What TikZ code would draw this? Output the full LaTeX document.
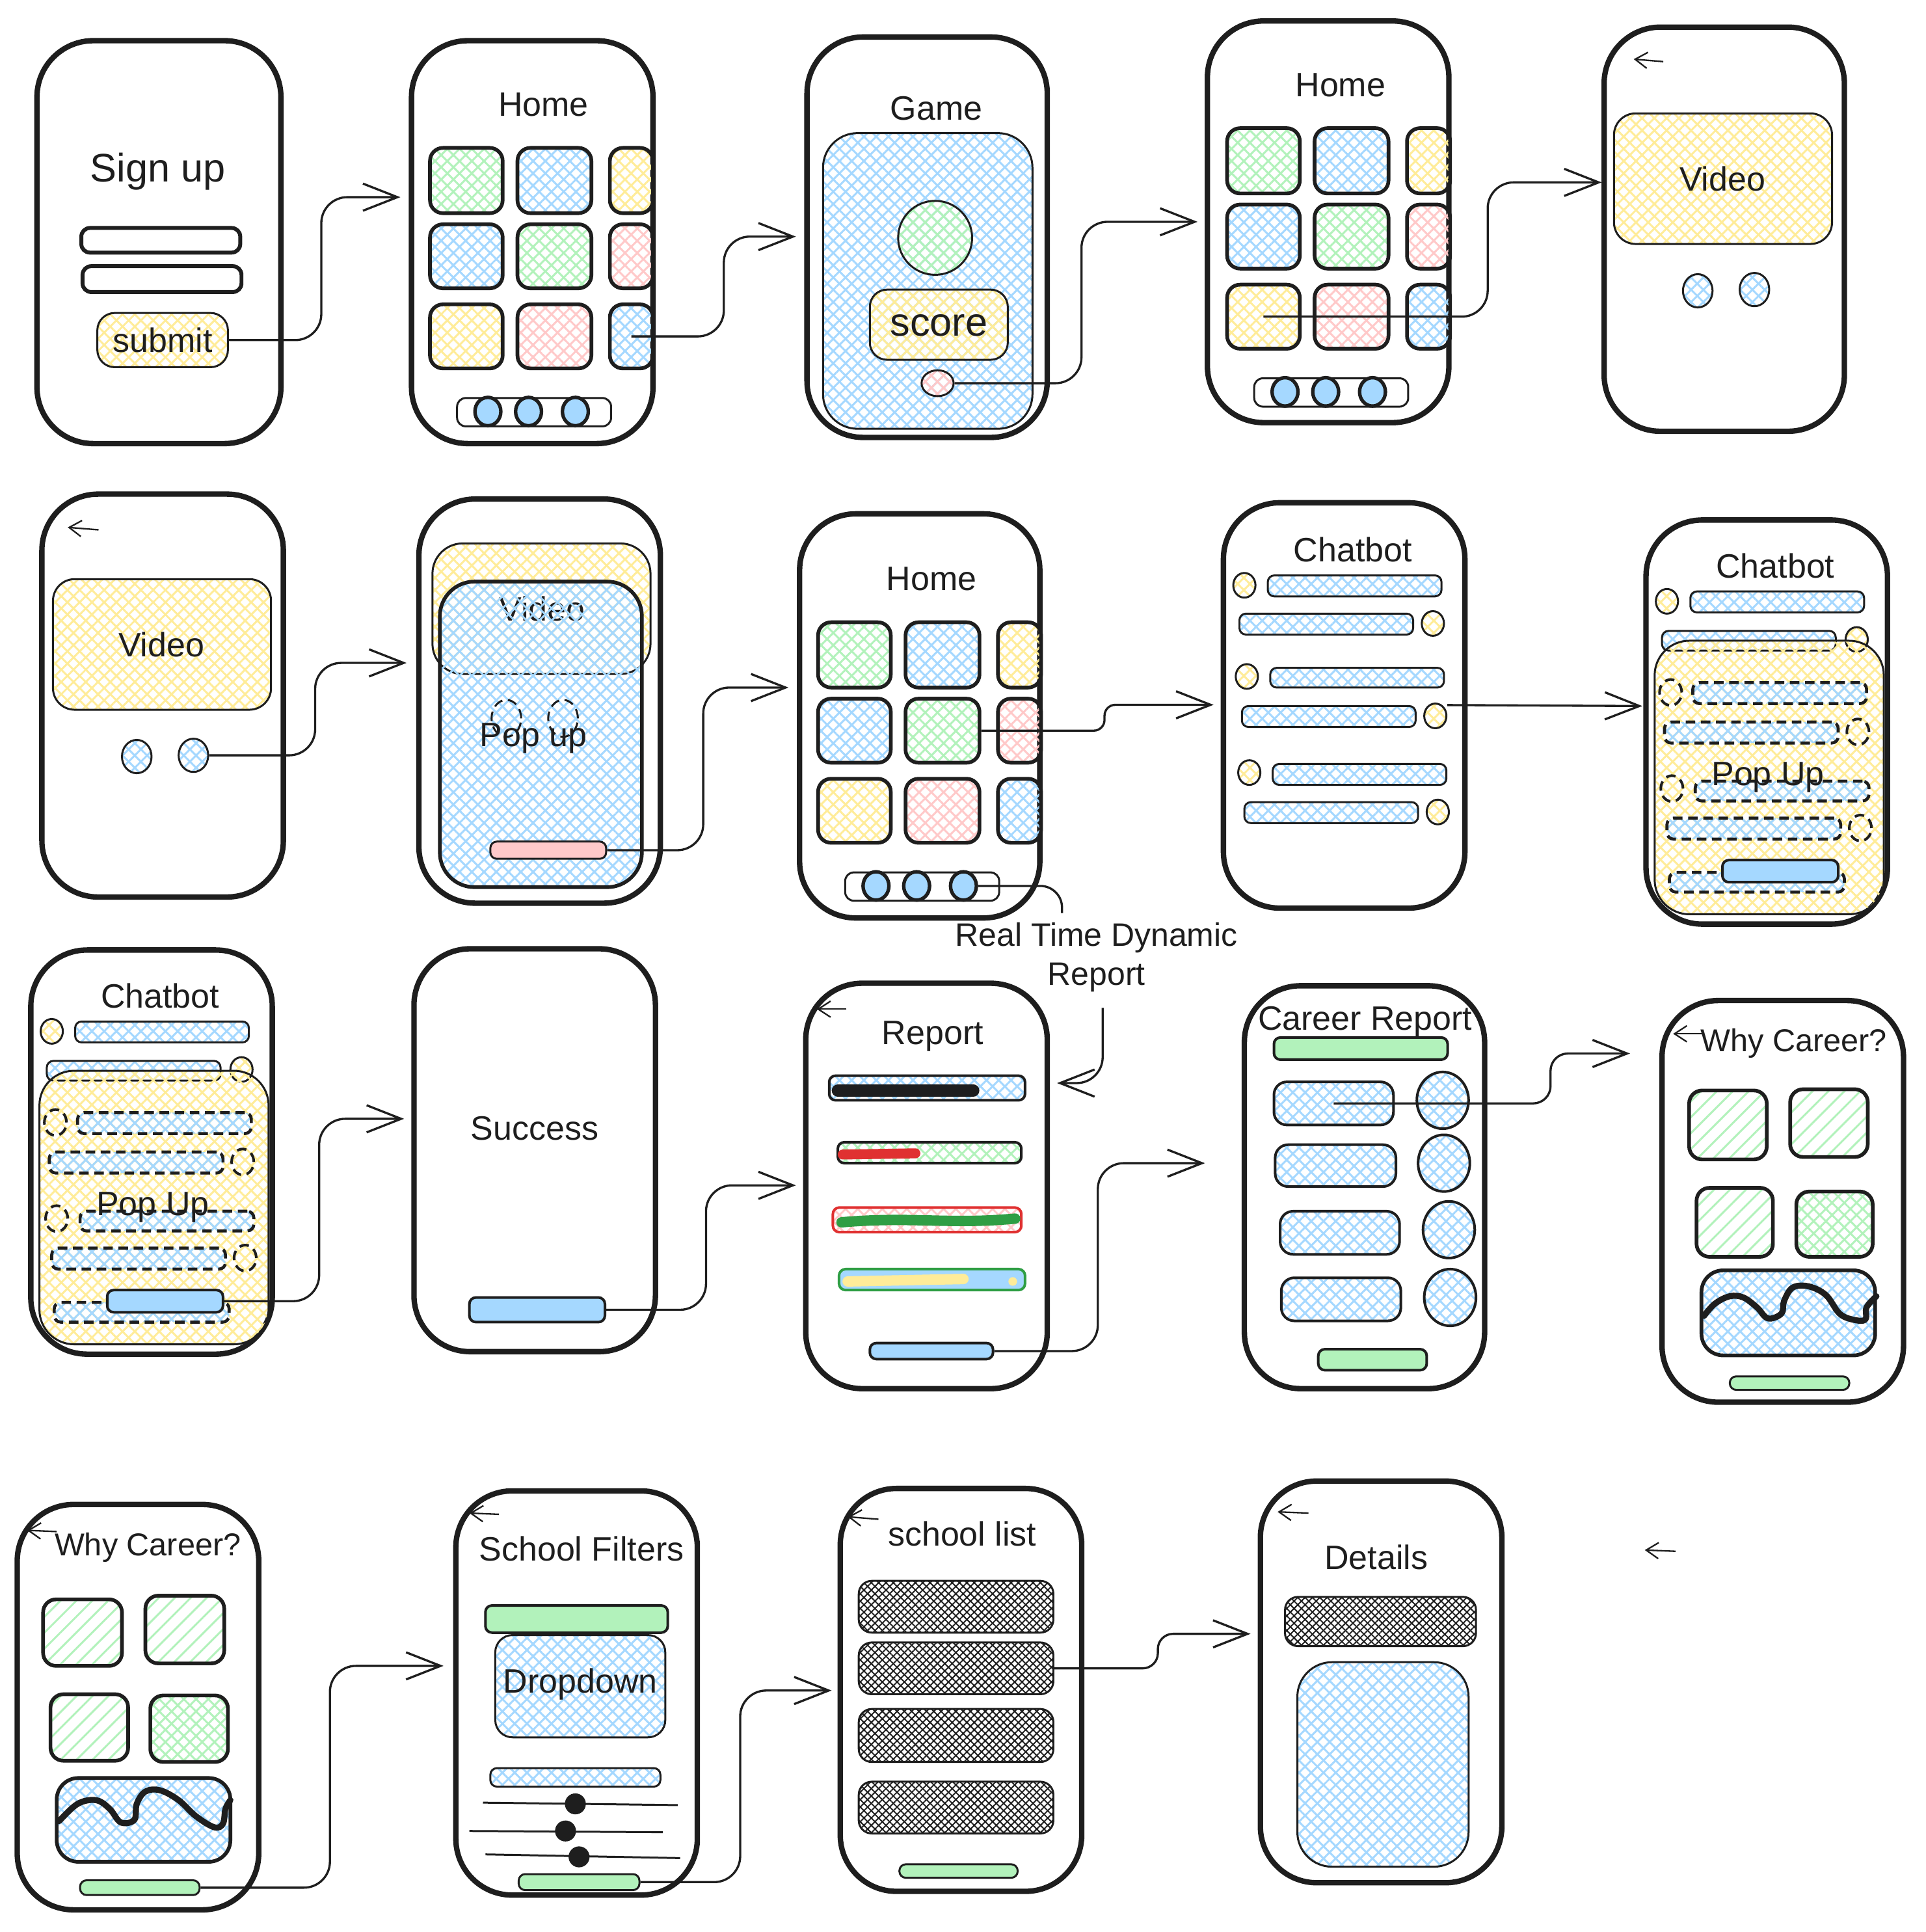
\documentclass[tikz,border=0pt]{standalone}
\usepackage{fontspec}
\setmainfont{Liberation Sans}
\usetikzlibrary{fit,arrows.meta,patterns.meta,shapes.geometric}

\definecolor{ink}{HTML}{1E1E1E}
\definecolor{cgreen}{HTML}{B2F2BB}
\definecolor{cblue}{HTML}{A5D8FF}
\definecolor{cyellow}{HTML}{FFEC99}
\definecolor{cred}{HTML}{FFC9C9}
\definecolor{sred}{HTML}{E03131}
\definecolor{sgreen}{HTML}{2F9E44}

\tikzset{
    phone/.style={draw=ink, line width=1.25pt, rounded corners=13pt, inner sep=0pt},
    hatchfill/.style={pattern={Hatch[angle=45,distance=2pt,line width=.45pt]}, pattern color=#1},
    linefill/.style={pattern={Lines[angle=45,distance=2.6pt,line width=.45pt]}, pattern color=#1},
    darkfill/.style={pattern={Hatch[angle=45,distance=1.2pt,line width=.3pt]}, pattern color=ink},
    apptile/.style={draw=ink, line width=.85pt, rounded corners=3pt, inner sep=0pt, hatchfill=#1},
    panel/.style={draw=ink, line width=.45pt, rounded corners=4pt, inner sep=0pt, hatchfill=#1},
    chatbar/.style={draw=ink, line width=.45pt, rounded corners=1.5pt, inner sep=0pt, hatchfill=#1},
    btn/.style={draw=ink, line width=.45pt, rounded corners=1.5pt, inner sep=0pt, fill=#1},
    field/.style={draw=ink, line width=.9pt, rounded corners=2pt, inner sep=0pt},
    navbar/.style={draw=ink, line width=.45pt, rounded corners=2pt, inner sep=0pt},
    bubble/.style={ellipse, draw=ink, line width=.45pt, inner sep=0pt, minimum size=#1},
    knob/.style={circle, fill=ink, inner sep=0pt, minimum size=1.7mm},
    dashline/.style={dash pattern=on 2.2pt off 1.3pt},
    wave/.style={draw=ink, line width=1.4pt, line cap=round, line join=round},
    conn/.style={draw=ink, line width=.5pt, rounded corners=6pt, -{Straight Barb[length=2.8mm,width=2.2mm]}},
    link/.style={draw=ink, line width=.5pt, rounded corners=5pt},
    backarrow/.style={draw=ink, line width=.35pt, -{Straight Barb[length=1mm,width=1.3mm]}},
    big/.style={font=\fontsize{9.2}{11}\selectfont},
    small/.style={font=\fontsize{7.3}{8.6}\selectfont}
}

\newcommand{\homescreen}[3]{%
    \begin{scope}[shift={(#2,#3)}]
        \node (#1h) at (92,-35) {Home};
        \foreach \i/\xa/\ya/\xb/\yb/\col in {1/0/0/59/53/cgreen, 2/71/0/131/53/cblue, 3/146/0/181/53/cyellow, 4/0/62/59/114/cblue, 5/71/62/131/114/cgreen, 6/146/62/181/114/cred, 7/0/127/59/179/cyellow, 8/71/127/131/179/cred, 9/146/127/181/179/cblue}
            \node[apptile=\col, fit={(\xa,\ya) (\xb,\yb)}] (#1t\i) {};
        \node[navbar, fit={(22,203) (147,226)}] (#1nav) {};
        \foreach \i/\xx in {1/47, 2/80, 3/118}
            \node[bubble=2.1mm, minimum height=2.3mm, fill=cblue, line width=.8pt] (#1n\i) at (\xx,214) {};
    \end{scope}}

\newcommand{\chatpopup}[3]{%
    \begin{scope}[shift={(#2,#3)}]
        \node[phone, fit={(0,0) (196,328)}] (#1) {};
        \node (#1h) at (105,37) {Chatbot};
        \node[bubble=1.8mm, minimum height=2mm, hatchfill=cyellow] (#1c1) at (17,66) {};
        \node[chatbar=cblue, fit={(36,58) (177,75)}] (#1b1) {};
        \node[chatbar=cblue, fit={(13,90) (154,106)}] (#1b2) {};
        \node[bubble=1.8mm, minimum height=2mm, hatchfill=cyellow] (#1c2) at (171,97) {};
        \node[panel=cyellow, rounded corners=8pt, fit={(7,98) (193,320)}] (#1pop) {};
        \foreach \i/\cx/\cy/\xa/\ya/\xb/\yb in {3/20/140/38/132/179/149, 4/172/172/15/164/156/181, 5/21/218/40/212/181/228, 6/174/250/17/242/158/259} {
            \node[chatbar=cblue, dashline, line width=.7pt, fit={(\xa,\ya) (\xb,\yb)}] (#1b\i) {};
            \node[bubble=1.8mm, minimum height=2.1mm, dashline, line width=.6pt] (#1c\i) at (\cx,\cy) {};
        }
        \node[chatbar=cblue, dashline, line width=.7pt, fit={(19,286) (161,302)}] (#1b7) {};
        \node (#1t) at (99,209) {Pop Up};
        \node[btn=cblue, line width=.6pt, fit={(62,276) (156,294)}] (#1btn) {};
    \end{scope}}

\begin{document}
\begin{tikzpicture}[x=0.01cm, y=-0.01cm, font=\fontsize{7.8}{9.1}\selectfont, text=ink]

        \fill[white] (0,0) rectangle (1563,1568);
        \useasboundingbox (0,0) rectangle (1563,1568);

        \foreach \n/\xa/\ya/\xb/\yb in {p1/30/33/228/360, p2/334/33/530/360, p3/655/30/850/355, p4/980/17/1176/343, p5/1302/22/1497/350, p6/34/401/230/728, p7/340/405/536/733, p8/649/417/844/745, p9/993/408/1189/737, p12/336/770/532/1097, p13/654/798/850/1127, p14/1010/800/1205/1127, p15/1349/812/1545/1138, p16/14/1221/210/1550, p17/370/1210/566/1538, p18/682/1208/878/1535, p19/1023/1202/1219/1528} {
            \node[phone, fit={(\xa,\ya) (\xb,\yb)}] (\n) {};
        }

        \foreach \xa/\ya/\xb/\yb in {1350/50/1326/48, 80/430/55/428, 687/819/663/819, 1382/839/1358/839, 46/1243/22/1242, 405/1229/381/1228, 713/1233/688/1231, 1062/1228/1037/1227, 1360/1259/1335/1258} {
            \draw[backarrow] (\xa,\ya) -- (\xb,\yb);
        }

        \node[big] (p1t) at (128,139) {Sign up};
        \node[field, fit={(66,185) (195,205)}] (p1f1) {};
        \node[field, fit={(67,216) (196,237)}] (p1f2) {};
        \node[panel=cyellow, fit={(79,254) (185,298)}] (p1sub) {};
        \node (p1subt) at (p1sub) {submit};

        \homescreen{p2}{349}{120}

        \node (p3t) at (760,88) {Game};
        \node[panel=cblue, rounded corners=8pt, fit={(668,108) (838,348)}] (p3scr) {};
        \node[bubble=6mm, hatchfill=cgreen] (p3ball) at (759,193) {};
        \node[panel=cyellow, fit={(706,235) (818,292)}] (p3score) {};
        \node[big] (p3scoret) at (762,264) {score};
        \node[bubble=2.6mm, minimum height=2.1mm, hatchfill=cred] (p3dot) at (761,311) {};

        \homescreen{p4}{996}{104}

        \node[panel=cyellow, rounded corners=5pt, fit={(1310,92) (1487,198)}] (p5v) {};
        \node (p5vt) at (1398,145) {Video};
        \node[bubble=2.4mm, minimum height=2.7mm, hatchfill=cblue] (p5d1) at (1378,236) {};
        \node[bubble=2.4mm, minimum height=2.7mm, hatchfill=cblue] (p5d2) at (1424,235) {};

        \node[panel=cyellow, rounded corners=5pt, fit={(43,470) (220,576)}] (p6v) {};
        \node (p6vt) at (131,523) {Video};
        \node[bubble=2.4mm, minimum height=2.7mm, hatchfill=cblue] (p6d1) at (111,614) {};
        \node[bubble=2.4mm, minimum height=2.7mm, hatchfill=cblue] (p6d2) at (157,613) {};

        \node[panel=cyellow, rounded corners=7pt, fit={(351,441) (528,547)}] (p7v) {};
        \node (p7vt) at (440,494) {Video};
        \node[apptile=cblue, rounded corners=8pt, fit={(357,472) (521,720)}] (p7pop) {};
        \node[bubble=2.4mm, minimum height=3mm, dashline, hatchfill=cblue] (p7d1) at (411,583) {};
        \node[bubble=2.4mm, minimum height=3mm, dashline, hatchfill=cblue] (p7d2) at (457,583) {};
        \node (p7t) at (433,599) {Pop up};
        \node[btn=cred, fit={(398,683) (492,697)}] (p7b) {};

        \homescreen{p8}{664}{505}

        \node (p9h) at (1098,446) {Chatbot};
        \foreach \i/\cx/\cy/\xa/\ya/\xb/\yb in {1/1010/475/1029/467/1170/484, 2/1163/506/1006/498/1147/515, 3/1012/549/1031/542/1172/558, 4/1165/581/1008/573/1149/590, 5/1014/627/1033/620/1174/637, 6/1167/659/1010/651/1151/668} {
            \node[chatbar=cblue, fit={(\xa,\ya) (\xb,\yb)}] (p9b\i) {};
            \node[bubble=1.8mm, minimum height=2mm, hatchfill=cyellow] (p9c\i) at (\cx,\cy) {};
        }

        \chatpopup{p10}{1336}{422}
        \chatpopup{p11}{25}{771}

        \node (p12t) at (434,916) {Success};
        \node[btn=cblue, line width=.6pt, fit={(381,1053) (491,1073)}] (p12btn) {};

        \node (p13t) at (757,841) {Report};
        \node[chatbar=cblue, line width=.6pt, fit={(673,873) (832,893)}] (p13r1) {};
        \draw[ink, line width=2.8pt, line cap=round] (680,885) -- (790,885);
        \node[chatbar=cgreen, line width=.6pt, fit={(680,927) (829,944)}] (p13r2) {};
        \draw[sred, line width=2.3pt, line cap=round] (684,937) -- (743,936);
        \node[chatbar=cred, draw=sred, line width=.6pt, fit={(676,980) (829,1000)}] (p13r3) {};
        \draw[sgreen, line width=2.4pt, line cap=round] (683,992) .. controls (740,987) and (770,994) .. (824,989);
        \node[btn=cblue, draw=sgreen, line width=.6pt, fit={(681,1030) (832,1047)}] (p13r4) {};
        \draw[cyellow, line width=2.4pt, line cap=round] (688,1040) -- (782,1038);
        \fill[cyellow] (822,1040) circle (1pt);
        \node[btn=cblue, line width=.6pt, fit={(706,1090) (806,1103)}] (p13btn) {};

        \node (p14t) at (1108,829) {Career Report};
        \node[btn=cgreen, line width=.6pt, fit={(1034,842) (1175,860)}] (p14top) {};
        \foreach \i/\xa/\ya/\xb/\yb/\cx/\cy in {1/1034/878/1131/913/1171/893, 2/1035/929/1133/963/1172/944, 3/1039/983/1136/1018/1176/998, 4/1040/1037/1137/1072/1177/1053} {
            \node[apptile=cblue, line width=.6pt, fit={(\xa,\ya) (\xb,\yb)}] (p14r\i) {};
            \node[bubble=4.2mm, minimum height=4.6mm, line width=.6pt, hatchfill=cblue] (p14c\i) at (\cx,\cy) {};
        }
        \node[btn=cgreen, line width=.6pt, fit={(1070,1095) (1158,1112)}] (p14btn) {};

        \node[small] (p15t) at (1456,847) {Why Career?};
        \node[apptile, linefill=cgreen, fit={(1371,885) (1434,941)}] (p15g1) {};
        \node[apptile, linefill=cgreen, fit={(1453,884) (1516,939)}] (p15g2) {};
        \node[apptile, linefill=cgreen, fit={(1377,964) (1439,1020)}] (p15g3) {};
        \node[apptile=cgreen, fit={(1458,967) (1520,1020)}] (p15g4) {};
        \node[apptile=cblue, rounded corners=5pt, fit={(1381,1031) (1522,1100)}] (p15ch) {};
        \draw[wave] plot[smooth, tension=.6] coordinates {(1383,1068) (1392,1058) (1404,1052) (1415,1053) (1426,1061) (1435,1070) (1446,1066) (1448,1056) (1455,1045) (1468,1044) (1482,1051) (1493,1066) (1504,1071) (1514,1071) (1515,1061) (1523,1052)};
        \node[btn=cgreen, fit={(1404,1117) (1501,1128)}] (p15btn) {};

        \node[small] (p16t) at (120,1256) {Why Career?};
        \node[apptile, linefill=cgreen, fit={(35,1298) (99,1352)}] (p16g1) {};
        \node[apptile, linefill=cgreen, fit={(118,1295) (182,1350)}] (p16g2) {};
        \node[apptile, linefill=cgreen, fit={(41,1375) (104,1429)}] (p16g3) {};
        \node[apptile=cgreen, fit={(122,1376) (185,1430)}] (p16g4) {};
        \node[apptile=cblue, rounded corners=5pt, fit={(46,1443) (187,1511)}] (p16ch) {};
        \draw[wave] plot[smooth, tension=.6] coordinates {(48,1478) (63,1464) (78,1461) (89,1468) (98,1479) (109,1477) (111,1464) (118,1454) (130,1453) (145,1461) (159,1474) (174,1483) (181,1480) (183,1468) (187,1461)};
        \node[btn=cgreen, fit={(65,1526) (162,1538)}] (p16btn) {};

        \node (p17t) at (472,1257) {School Filters};
        \node[btn=cgreen, line width=.6pt, fit={(394,1303) (542,1325)}] (p17top) {};
        \node[panel=cblue, fit={(402,1327) (540,1410)}] (p17dd) {};
        \node (p17ddt) at (471,1367) {Dropdown};
        \node[chatbar=cblue, fit={(398,1435) (536,1450)}] (p17bar) {};
        \foreach \i/\xa/\ya/\xb/\yb/\kx/\ky in {1/392/1463/550/1465/467/1464, 2/381/1486/538/1487/459/1486, 3/394/1505/552/1508/470/1507} {
            \draw[ink, line width=.45pt] (\xa,\ya) -- (\xb,\yb);
            \node[knob] (p17k\i) at (\kx,\ky) {};
        }
        \node[btn=cgreen, fit={(421,1521) (519,1534)}] (p17btn) {};

        \node (p18t) at (781,1245) {school list};
        \foreach \i/\ya/\yb in {1/1283/1325, 2/1333/1375, 3/1387/1430, 4/1446/1488} {
            \node[draw=ink, line width=.45pt, rounded corners=3pt, inner sep=0pt, darkfill, fit={(697,\ya) (855,\yb)}] (p18s\i) {};
        }
        \node[btn=cgreen, fit={(730,1513) (826,1524)}] (p18btn) {};

        \node (p19t) at (1117,1264) {Details};
        \node[draw=ink, line width=.45pt, rounded corners=3pt, inner sep=0pt, darkfill, fit={(1043,1296) (1198,1336)}] (p19top) {};
        \node[panel=cblue, rounded corners=8pt, fit={(1053,1349) (1192,1515)}] (p19card) {};

        \node[align=center, font=\fontsize{7.5}{9.1}\selectfont] (note) at (890,777) {Real Time Dynamic\\Report};

        \foreach \c/\x/\y in {e1/325/160, e2/646/192, e3/972/180, e4/1300/148, e5/330/538, e6/640/558, e7/985/572, e8/1333/573, e9/328/908, e10/646/962, e11/978/944, e12/1323/855, e13/360/1352, e14/675/1372, e15/1015/1326, en/858/879, noteA/895/818, tipA/862/741} {
            \coordinate (\c) at (\x,\y);
        }

        \draw[conn] (p1sub.east) -- ++(75,0) |- (e1);
        \draw[conn] (p2t9.center) -- ++(75,0) |- (e2);
        \draw[conn] (p3dot.east) -- ++(103,0) |- (e3);
        \draw[conn] (p4t7.center) -- ++(182,0) |- (e4);
        \draw[conn] (p6d2.east) -- ++(86,0) |- (e5);
        \draw[conn] (p7b.east) -- ++(78,0) |- (e6);
        \draw[conn, rounded corners=2.5pt] (p8t5.east) -- ++(100,0) |- (e7);
        \draw[conn] (p9c4.east |- p9b4.north) -- (e8);
        \draw[conn] (p11btn.east) -- ++(77,0) |- (e9);
        \draw[conn] (p12btn.east) -- ++(81,0) |- (e10);
        \draw[conn] (p13btn.east) -- ++(84,0) |- (e11);
        \draw[conn, rounded corners=4pt] (p14r1.center) -- ++(176,0) |- (e12);
        \draw[conn] (p16btn.east) -- ++(105,0) |- (e13);
        \draw[conn] (p17btn.east) -- ++(81,0) |- (e14);
        \draw[conn, rounded corners=3.5pt] (p18s2.east) -- ++(84,0) |- (e15);

        \draw[link] (p8n3.east) -| (tipA);
        \draw[conn] (noteA) |- (en);
    \end{tikzpicture}
\end{document}
